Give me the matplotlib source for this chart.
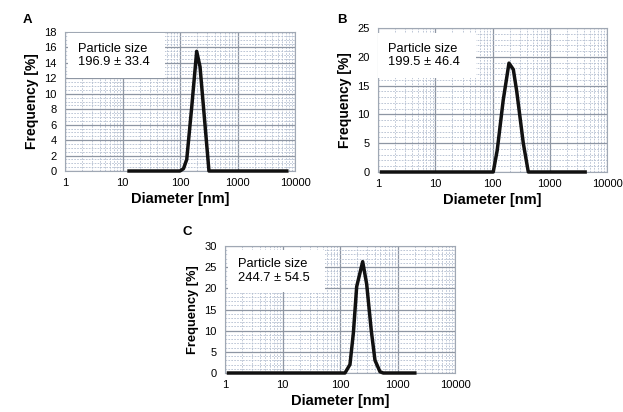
import matplotlib
matplotlib.use("Agg")
import matplotlib.pyplot as plt
from matplotlib.ticker import FixedLocator, NullFormatter, LogLocator, MultipleLocator
from matplotlib.patches import Rectangle

plt.rcParams['font.family'] = ['Liberation Sans', 'DejaVu Sans']

# Panel A
a_diam = [13, 100, 115, 131, 160, 195, 223, 272, 319, 7200]
a_freq = [0, 0, 0.3, 1.5, 8.3, 15.5, 13.5, 6.0, 0, 0]
# Panel B
b_diam = [1.15, 103, 121, 154, 194, 231, 265, 345, 422, 4150]
b_freq = [0, 0, 3.8, 12.5, 18.9, 17.8, 14.0, 5.0, 0, 0]
# Panel C
c_diam = [1.15, 122, 149, 171, 195, 248, 291, 350, 406, 496, 566, 2000]
c_freq = [0, 0, 2.0, 9.5, 20.4, 26.3, 21.0, 10.0, 3.0, 0.3, 0, 0]

labels = ["A", "B", "C"]
size_texts = ["Particle size\n196.9 \u00b1 33.4",
              "Particle size\n199.5 \u00b1 46.4",
              "Particle size\n244.7 \u00b1 54.5"]
y_max = [18, 25, 30]
y_step = [2, 5, 5]
y_minor = [0.5, 1, 1]
x_ticks = [1, 10, 100, 1000, 10000]
x_ticklabels = ["1", "10", "100", "1000", "10000"]

W, H = 623, 412
fig = plt.figure(figsize=(W / 100, H / 100), dpi=100)

# pixel boxes: left, right, top, bottom
boxes = [(65, 295, 32, 171), (378, 607, 28, 172), (225, 455, 246, 373)]
letter_pos = [(27, 20), (342, 20), (187, 232)]
textbox = [(0.013, 0.435, 33, 78), (0.0, 0.43, 33, 78), (0.013, 0.435, 250, 292)]
ylabel_size = [10, 10, 9.3]

data = [(a_diam, a_freq), (b_diam, b_freq), (c_diam, c_freq)]

for i in range(3):
    l, r, t, b = boxes[i]
    ax = fig.add_axes([l / W, (H - b) / H, (r - l) / W, (b - t) / H])
    ax.set_xscale('log')
    ax.set_xlim(1, 10000)
    ax.set_ylim(0, y_max[i])
    ax.xaxis.set_major_locator(FixedLocator(x_ticks))
    ax.set_xticklabels(x_ticklabels)
    ax.xaxis.set_minor_locator(LogLocator(base=10, subs=range(2, 10)))
    ax.xaxis.set_minor_formatter(NullFormatter())
    ax.yaxis.set_major_locator(MultipleLocator(y_step[i]))
    ax.yaxis.set_minor_locator(MultipleLocator(y_minor[i]))
    ax.grid(which='major', color='#8e96a3', linewidth=0.9, linestyle='-')
    ax.grid(which='minor', color='#b3bed0', linewidth=0.6, linestyle=(0, (2, 1.5)))
    ax.set_axisbelow(True)
    ax.tick_params(which='both', length=0, labelsize=8, pad=5)
    ax.tick_params(axis='y', pad=6)
    for s in ax.spines.values():
        s.set_color('#a0a8b4')
        s.set_linewidth(0.8)
    d, f = data[i]
    ax.plot(d, f, color='#111111', linewidth=2.5, solid_joinstyle='round', zorder=5, clip_on=False)
    ax.set_xlabel("Diameter [nm]", fontsize=10.5, fontweight='bold', labelpad=3)
    ax.set_ylabel("Frequency [%]", fontsize=ylabel_size[i], fontweight='bold', labelpad=4)
    x0, x1, yt, yb = textbox[i]
    ah = b - t
    y0 = (b - yb) / ah
    y1 = (b - yt) / ah
    ax.add_patch(Rectangle((x0, y0), x1 - x0, y1 - y0, transform=ax.transAxes,
                           facecolor='white', edgecolor='none', zorder=3))
    ax.text(x0 + 0.045, (y0 + y1) / 2, size_texts[i], transform=ax.transAxes,
            fontsize=9.3, va='center', ha='left', zorder=4, linespacing=1.15)
    lx, ly = letter_pos[i]
    fig.text(lx / W, 1 - ly / H, labels[i], fontsize=9.5, fontweight='bold',
             ha='center', va='center')

fig.savefig("out.png", dpi=100)
